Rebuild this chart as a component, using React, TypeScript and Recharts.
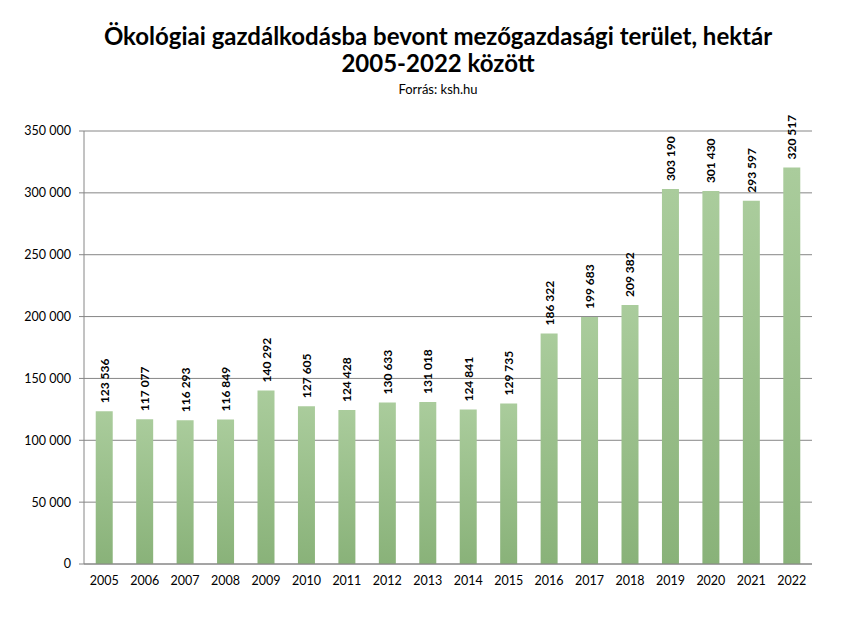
import React from 'react';
import { BarChart, Bar, XAxis, YAxis, CartesianGrid, LabelList } from 'recharts';

const years = ['2005','2006','2007','2008','2009','2010','2011','2012','2013','2014','2015','2016','2017','2018','2019','2020','2021','2022'];
const hectares = [123536,117077,116293,116849,140292,127605,124428,130633,131018,124841,129735,186322,199683,209382,303190,301430,293597,320517];
const yTicks = [0,50000,100000,150000,200000,250000,300000,350000];
const boundaryTicks = [0,1,2,3,4,5,6,7,8,9,10,11,12,13,14,15,16,17,18];

const titleLine1 = 'Ökológiai gazdálkodásba bevont mezőgazdasági terület, hektár';
const titleLine2 = '2005-2022 között';
const subtitle = 'Forrás: ksh.hu';

const data = years.map((y, i) => ({ year: y, value: hectares[i], pos: i + 0.5 }));

const fmt = (v: number) => String(v).replace(/\B(?=(\d{3})+(?!\d))/g, ' ');

const FONT = 'Lato, "Open Sans", sans-serif';
const GRID = '#868686';

const RotLabel = (props: any) => {
  const { x, y, width, value } = props;
  const cx = x + width / 2;
  const ty = y - 8;
  return (
    <text
      x={cx}
      y={ty}
      transform={`rotate(-90, ${cx}, ${ty})`}
      textAnchor="start"
      dominantBaseline="central"
      fontFamily={FONT}
      fontWeight="bold"
      fontSize={12}
      fill="#000"
    >
      {fmt(value)}
    </text>
  );
};

export default function App() {
  return (
    <div style={{ position: 'absolute', left: 0, top: 0, width: 852, height: 624, background: '#fff' }}>
      <div style={{ position: 'absolute', left: 0, width: 876, top: 22, textAlign: 'center', fontFamily: FONT, fontWeight: 'bold', fontSize: 24, lineHeight: '27px', color: '#000' }}>
        <div>{titleLine1}</div>
        <div>{titleLine2}</div>
      </div>
      <div style={{ position: 'absolute', left: 0, width: 876, top: 81, textAlign: 'center', fontFamily: FONT, fontSize: 13, color: '#000' }}>
        {subtitle}
      </div>
      <BarChart
        width={852}
        height={624}
        data={data}
        margin={{ top: 131, right: 40, bottom: 30, left: 0 }}
        barCategoryGap="29%"
      >
        <defs>
          <linearGradient id="barGrad" x1="0" y1="0" x2="0" y2="1">
            <stop offset="0%" stopColor="#aacc9c" />
            <stop offset="100%" stopColor="#89b279" />
          </linearGradient>
        </defs>
        <CartesianGrid vertical={false} stroke={GRID} strokeWidth={1} />
        <XAxis
          xAxisId="ticks"
          type="number"
          dataKey="pos"
          domain={[0, 18]}
          ticks={boundaryTicks}
          tickFormatter={() => ''}
          axisLine={false}
          tickLine={{ stroke: GRID }}
          tickSize={5}
          height={0}
          allowDataOverflow
        />
        <XAxis
          xAxisId="cat"
          dataKey="year"
          axisLine={{ stroke: GRID }}
          tickLine={false}
          tick={{ fontFamily: FONT, fontSize: 12.5, fill: '#000' }}
          tickMargin={6}
          height={30}
          interval={0}
        />
        <YAxis
          domain={[0, 350000]}
          ticks={yTicks}
          width={84}
          axisLine={{ stroke: GRID }}
          tickLine={{ stroke: GRID }}
          tickSize={5}
          tickMargin={8}
          tickFormatter={(v: number) => fmt(v)}
          tick={{ fontFamily: FONT, fontSize: 12.5, fill: '#000' }}
          interval={0}
        />
        <Bar xAxisId="cat" dataKey="value" fill="url(#barGrad)" isAnimationActive={false}>
          <LabelList dataKey="value" content={<RotLabel />} />
        </Bar>
      </BarChart>
    </div>
  );
}
